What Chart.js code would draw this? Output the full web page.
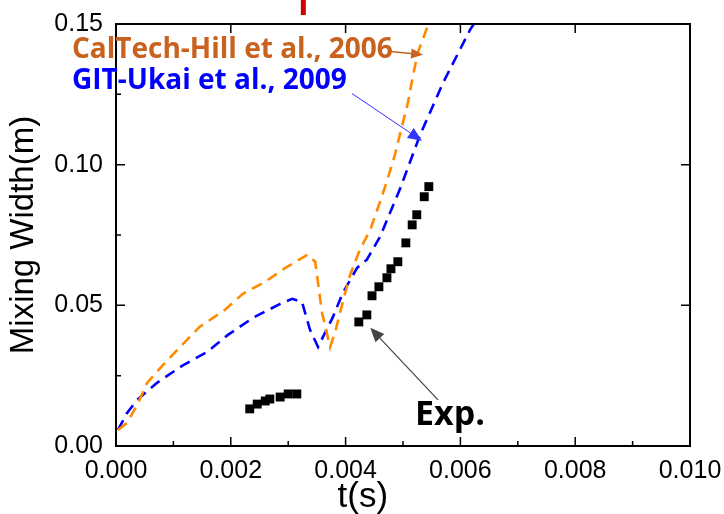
<!DOCTYPE html>
<html><head><meta charset="utf-8">
<script src="https://cdn.jsdelivr.net/npm/chart.js@4/dist/chart.umd.min.js"></script>
<style>html,body{margin:0;padding:0;background:#fff}#wrap{width:724px;height:514px}</style>
</head><body><div id="wrap"><canvas id="c" width="724" height="514"></canvas></div>
<script>
// ---- data (t in s, mixing width in m) ----
const calTechT = [0.000035,0.00019,0.00037,0.00054,0.00082,0.00115,0.00146,0.0019,0.00221,0.0026,0.00298,0.00334,0.00347,0.00359,0.00373,0.00382,0.00395,0.00408,0.00425,0.00443,0.0046,0.00474,0.00486,0.00498,0.00509,0.00517,0.00526,0.00544,0.0055];
const calTechW = [0.0057,0.0082,0.0146,0.0224,0.0288,0.0359,0.0424,0.0484,0.0541,0.0584,0.0637,0.068,0.0655,0.0473,0.0352,0.0406,0.0512,0.0609,0.0698,0.0769,0.0868,0.0954,0.1036,0.1135,0.1224,0.1313,0.1399,0.1498,0.1545];
const gitT = [0.000035,0.00019,0.00037,0.00071,0.00115,0.00159,0.00195,0.00239,0.00286,0.00307,0.00324,0.00338,0.00352,0.00378,0.00395,0.0042,0.00437,0.0046,0.00495,0.0053,0.0057,0.00617,0.00631];
const gitW = [0.0057,0.0117,0.0164,0.0224,0.0285,0.0335,0.0395,0.0456,0.0505,0.0523,0.0512,0.0413,0.0352,0.0459,0.0544,0.0633,0.0662,0.0744,0.0915,0.1107,0.1292,0.148,0.1523];
const expT = [0.00233,0.00246,0.0026,0.00268,0.00286,0.003,0.00315,0.00423,0.00437,0.00446,0.00458,0.00472,0.00479,0.00491,0.00505,0.00516,0.00524,0.00537,0.00545];
const expW = [0.0132,0.0149,0.016,0.0167,0.0174,0.0185,0.0185,0.0441,0.0466,0.0534,0.0566,0.0598,0.063,0.0655,0.0722,0.0786,0.0822,0.0886,0.0922];
const xTicks = [0,0.002,0.004,0.006,0.008,0.010];
const xMinorTicks = [0.001,0.003,0.005,0.007,0.009];
const yTicks = [0,0.05,0.10,0.15];
const yMinorTicks = [0.025,0.075,0.125];
const labelTexts = ["CalTech-Hill et al., 2006","GIT-Ukai et al., 2009","Exp."];
const xTitle = "t(s)";
const yTitle = "Mixing Width(m)";

const pts = (xs, ys) => xs.map((x,i)=>({x:x,y:ys[i]}));
const FONT = "'Liberation Sans', Arial, sans-serif";
const AFONT = "'Open Sans', 'Noto Sans', sans-serif";

function arrow(ctx, x0, y0, x1, y1, color, lw, hl, hw){
  ctx.save();
  ctx.strokeStyle = color; ctx.fillStyle = color; ctx.lineWidth = lw;
  const a = Math.atan2(y1-y0, x1-x0);
  const bx = x1 - hl*Math.cos(a), by = y1 - hl*Math.sin(a);
  ctx.beginPath(); ctx.moveTo(x0,y0); ctx.lineTo(bx,by); ctx.stroke();
  ctx.beginPath();
  ctx.moveTo(x1,y1);
  ctx.lineTo(bx + hw*Math.sin(a), by - hw*Math.cos(a));
  ctx.lineTo(bx - hw*Math.sin(a), by + hw*Math.cos(a));
  ctx.closePath(); ctx.fill();
  ctx.restore();
}

const decor = {
  id:'decor',
  afterDraw(chart){
    const ctx = chart.ctx, a = chart.chartArea;
    const xs = chart.scales.x, ys = chart.scales.y;
    const X = v => xs.getPixelForValue(v), Y = v => ys.getPixelForValue(v);
    ctx.save();
    // frame
    ctx.strokeStyle = '#000'; ctx.lineWidth = 2;
    ctx.strokeRect(a.left, a.top, a.right-a.left, a.bottom-a.top);
    ctx.lineWidth = 1.5;
    ctx.beginPath();
    xTicks.forEach(v=>{ const p=X(v); ctx.moveTo(p,a.bottom); ctx.lineTo(p,a.bottom-9); ctx.moveTo(p,a.top); ctx.lineTo(p,a.top+9); });
    xMinorTicks.forEach(v=>{ const p=X(v); ctx.moveTo(p,a.bottom); ctx.lineTo(p,a.bottom-5); });
    yTicks.forEach(v=>{ const p=Y(v); ctx.moveTo(a.left,p); ctx.lineTo(a.left+9,p); ctx.moveTo(a.right,p); ctx.lineTo(a.right-9,p); });
    yMinorTicks.forEach(v=>{ const p=Y(v); ctx.moveTo(a.left,p); ctx.lineTo(a.left+5,p); });
    ctx.stroke();
    // red fragment of cut-off title
    ctx.fillStyle = '#d40000';
    ctx.fillRect(X(0.00322), 0, 5, 15);
    // x axis title
    ctx.fillStyle = '#000';
    ctx.textAlign = 'center'; ctx.textBaseline = 'middle';
    ctx.font = "35px " + FONT;
    ctx.fillText(xTitle, X(0.0043), a.bottom + 51);
    // annotations
    ctx.textBaseline = 'middle'; ctx.textAlign = 'left';
    ctx.font = "bold 28px " + AFONT;
    ctx.fillStyle = '#c8621e';
    ctx.fillText(labelTexts[0], X(-0.000767), Y(0.1409));
    ctx.fillStyle = '#0000ff';
    ctx.fillText(labelTexts[1], X(-0.000767), Y(0.1299));
    ctx.fillStyle = '#000';
    ctx.font = "bold 34px " + AFONT;
    ctx.fillText(labelTexts[2], X(0.00521), Y(0.0110));
    arrow(ctx, X(0.00477), Y(0.1402), X(0.00535), Y(0.1391), '#c8621e', 1.5, 12, 5);
    arrow(ctx, X(0.00411), Y(0.1253), X(0.00533), Y(0.1085), '#3333ff', 1, 14, 6);
    arrow(ctx, X(0.00561), Y(0.0164), X(0.00443), Y(0.0420), '#444', 1.2, 14, 6);
    ctx.restore();
  }
};

new Chart(document.getElementById('c'), {
  type:'scatter',
  data:{datasets:[
    {label:labelTexts[0], data:pts(calTechT,calTechW), showLine:true, borderColor:'#ff8a00', borderWidth:2.6, borderDash:[11,7], pointRadius:0, fill:false, tension:0, clip:0},
    {label:labelTexts[1], data:pts(gitT,gitW), showLine:true, borderColor:'#0000ff', borderWidth:2.6, borderDash:[11,7], pointRadius:0, fill:false, tension:0, clip:0},
    {label:labelTexts[2], data:pts(expT,expW), showLine:false, pointStyle:'rect', pointRadius:6.3, backgroundColor:'#000', borderColor:'#000', borderWidth:0, clip:false}
  ]},
  options:{
    responsive:false, animation:false, devicePixelRatio:1,
    layout:{padding:{top:24,right:34,left:0,bottom:0}},
    plugins:{legend:{display:false}, tooltip:{enabled:false}},
    scales:{
      x:{type:'linear', min:0, max:0.01,
        afterBuildTicks:s=>{s.ticks = xTicks.map(v=>({value:v}));},
        afterFit:s=>{s.height = 68;},
        ticks:{callback:v=>Number(v).toFixed(3), font:{family:FONT,size:25}, color:'#000', padding:2, maxRotation:0, autoSkip:false},
        grid:{display:false}, border:{display:false},
        title:{display:false}
      },
      y:{type:'linear', min:0, max:0.15,
        afterBuildTicks:s=>{s.ticks = yTicks.map(v=>({value:v}));},
        afterFit:s=>{s.width = 116;},
        ticks:{callback:v=>Number(v).toFixed(2), font:{family:FONT,size:25}, color:'#000', padding:5, autoSkip:false},
        grid:{display:false}, border:{display:false},
        title:{display:true, text:yTitle, font:{family:FONT,size:33}, color:'#000', padding:{top:4,bottom:0}}
      }
    }
  },
  plugins:[decor]
});
</script></body></html>
